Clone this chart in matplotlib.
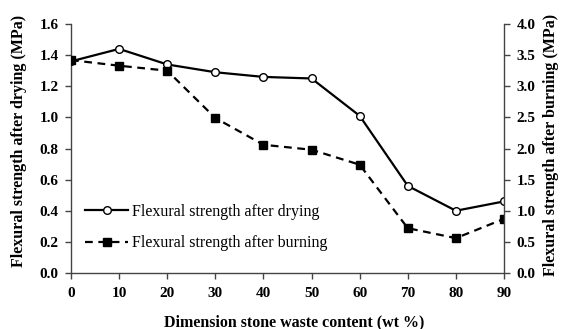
import matplotlib
matplotlib.use("Agg")
import matplotlib.pyplot as plt

plt.rcParams['font.family'] = ['Liberation Serif', 'DejaVu Serif']

content = [0, 10, 20, 30, 40, 50, 60, 70, 80, 90]
drying = [1.36, 1.44, 1.34, 1.29, 1.26, 1.25, 1.01, 0.56, 0.40, 0.46]
burning = [3.42, 3.33, 3.25, 2.49, 2.06, 1.98, 1.74, 0.72, 0.56, 0.87]
left_ticks = [0.0, 0.2, 0.4, 0.6, 0.8, 1.0, 1.2, 1.4, 1.6]
right_ticks = [0.0, 0.5, 1.0, 1.5, 2.0, 2.5, 3.0, 3.5, 4.0]

W, H = 562, 329
fig = plt.figure(figsize=(W/100, H/100), dpi=100)
ax = fig.add_axes([71/W, 1-273/H, (504-71)/W, (273-24)/H])
ax2 = ax.twinx()

l1, = ax.plot(content, drying, '-', color='black', lw=1.6, marker='o', ms=5.5,
              mfc='white', mec='black', mew=1.0, label='Flexural strength after drying', zorder=3)
l2, = ax2.plot(content, burning, '--', color='black', lw=1.6, marker='s', ms=5.5,
               mfc='black', mec='black', label='Flexural strength after burning', dashes=(3.5, 2.5))

ax.set_xlim(0, 90)
ax.set_ylim(0, 1.6)
ax2.set_ylim(0, 4.0)
ax.set_xticks(content)
ax.set_yticks(left_ticks)
ax.set_yticklabels([f'{v:.1f}' for v in left_ticks])
ax2.set_yticks(right_ticks)
ax2.set_yticklabels([f'{v:.1f}' for v in right_ticks])

for a in (ax, ax2):
    a.spines['top'].set_visible(False)
    for s in a.spines.values():
        s.set_color('#444444')
        s.set_linewidth(1.0)
    a.tick_params(direction='out', length=4, width=1.0, color='#444444', labelsize=11, pad=5)
    for lab in a.get_xticklabels() + a.get_yticklabels():
        lab.set_fontweight('bold')
ax.tick_params(axis='x', pad=6)
ax.spines['right'].set_visible(False)
ax2.spines['left'].set_visible(False)
ax2.spines['bottom'].set_visible(False)

fig.text(294/W, 1-322/H, 'Dimension stone waste content (wt %)', fontsize=11.5,
         fontweight='bold', ha='center', va='center')
fig.text(19/W, 1-141/H, 'Flexural strength after drying (MPa)', fontsize=11.5,
         fontweight='bold', ha='center', va='center', rotation=90)
fig.text(551/W, 1-145/H, 'Flexural strength after burning (MPa)', fontsize=11.5,
         fontweight='bold', ha='center', va='center', rotation=90)

ax.legend([l1, l2], [l1.get_label(), l2.get_label()], loc='upper left',
          bbox_to_anchor=(0.0175, 0.303), borderaxespad=0, frameon=False, fontsize=11.5,
          handlelength=2.7, handletextpad=0.25, labelspacing=0.95)

fig.savefig('out.png', dpi=100)
